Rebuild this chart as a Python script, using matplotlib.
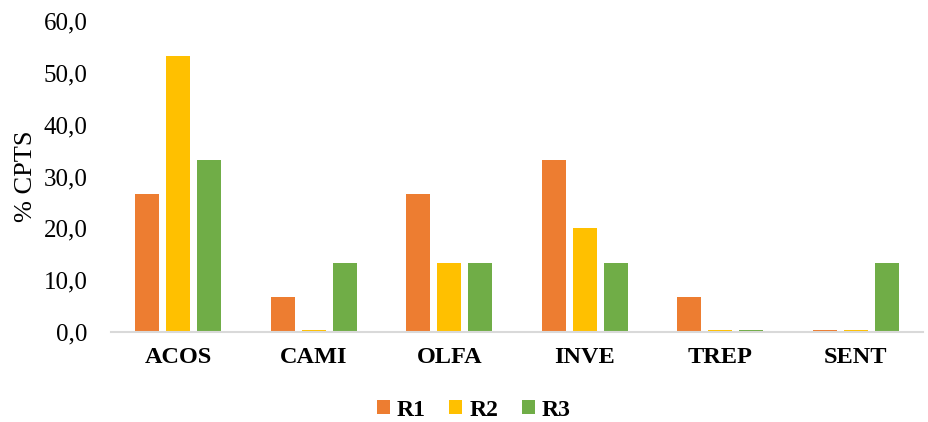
import matplotlib.pyplot as plt
import numpy as np

categories = ["ACOS", "CAMI", "OLFA", "INVE", "TREP", "SENT"]
series_names = ["R1", "R2", "R3"]
r1 = [26.7, 6.7, 26.7, 33.3, 6.7, 0.5]
r2 = [53.3, 0.5, 13.3, 20.0, 0.5, 0.5]
r3 = [33.3, 13.3, 13.3, 13.3, 0.5, 13.3]
colors = ["#ED7D31", "#FFC000", "#70AD47"]
yticks = [0, 10, 20, 30, 40, 50, 60]

plt.rcParams['font.family'] = ['Liberation Serif', 'DejaVu Serif']

fig = plt.figure(figsize=(9.29, 4.22), dpi=100)
ax = fig.add_axes([0.119, 0.213, 0.875, 0.737])

x = np.arange(len(categories))
width = 0.177
offset = 0.229
for i, (vals, name, c) in enumerate(zip([r1, r2, r3], series_names, colors)):
    ax.bar(x + (i - 1) * offset, vals, width, color=c, label=name)

ax.set_xlim(-0.5, len(categories) - 0.5)
ax.set_ylim(0, 60)
ax.set_yticks(yticks)
ax.set_yticklabels([f"{v:.1f}".replace(".", ",") for v in yticks], fontsize=18)
ax.set_xticks(x)
ax.set_xticklabels(categories, fontsize=17.5, fontweight='bold')
ax.tick_params(axis='both', length=0)
ax.tick_params(axis='y', pad=16.5)
ax.tick_params(axis='x', pad=11)
ax.set_ylabel("% CPTS", fontsize=19, labelpad=5)

for s in ['top', 'right', 'left']:
    ax.spines[s].set_visible(False)
ax.spines['bottom'].set_color('#d9d9d9')
ax.spines['bottom'].set_linewidth(1.5)

leg = fig.legend(loc='center', bbox_to_anchor=(0.51, 0.028), ncol=3, frameon=False,
                 prop={'size': 17, 'weight': 'bold'}, handlelength=0.55, handleheight=0.55,
                 handletextpad=0.3, columnspacing=1.0)

fig.savefig("out.png", dpi=100)
